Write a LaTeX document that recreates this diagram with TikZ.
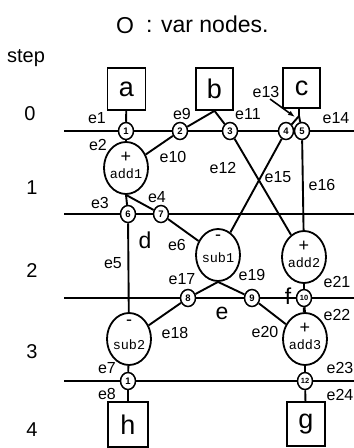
\documentclass[tikz,border=0pt]{standalone}
\usepackage{fontspec}
\setmainfont{Liberation Sans}
\setmonofont{Liberation Mono}
\usetikzlibrary{shapes.geometric,arrows.meta}
\begin{document}
\begin{tikzpicture}[x=1pt,y=-1pt,
  var/.style={ellipse,draw,line width=1.5pt,fill=white,minimum width=15pt,minimum height=17pt,inner sep=0pt,font=\fontsize{9.5}{9.5}\selectfont\bfseries},
  op/.style={ellipse,draw,line width=1.8pt,fill=white,minimum width=44pt,minimum height=52pt,inner sep=0pt},
  box/.style={rectangle,draw,line width=1.7pt,minimum width=38pt,minimum height=42pt,inner sep=0pt,font=\fontsize{27}{27}\selectfont},
  lbl/.style={font=\fontsize{16}{16}\selectfont,inner sep=0pt},
  big/.style={font=\fontsize{23}{23}\selectfont,inner sep=0pt},
  stepnum/.style={font=\fontsize{20}{20}\selectfont,inner sep=0pt},
  conn/.style={line width=1.9pt},
  heavy/.style={line width=2.9pt},
  hline/.style={line width=2.1pt},
  sign/.style={font=\fontsize{18}{18}\selectfont,inner sep=0pt},
  opname/.style={font=\ttfamily\fontsize{13.5}{13.5}\selectfont,inner sep=0pt}
]
\useasboundingbox (0,0) rectangle (354,448);

% title and step column
\node[big,anchor=base] (legO) at (125,33) {O};
\node[big,anchor=base west] (legT) at (146,32) {: var nodes.};
\node[stepnum,anchor=base] (steplbl) at (26,62) {step};
\node[stepnum] (s0) at (30,114) {0};
\node[stepnum] (s1) at (32,188) {1};
\node[stepnum] (s2) at (32,271) {2};
\node[stepnum] (s3) at (32,352) {3};
\node[stepnum] (s4) at (32,430) {4};

% step lines
\foreach \n/\y in {0/131,1/214,2/298,3/381}{
  \coordinate (L\n a) at (64,\y);
  \coordinate (L\n b) at (354,\y);
  \draw[hline] (L\n a) -- (L\n b);
}

% boxes
\node[box] (a) at (126.5,89) {a};
\node[box,minimum width=37pt] (b) at (214.5,89) {b};
\node[box,minimum width=37pt,minimum height=40pt] (c) at (301.5,88) {c};
\node[box,minimum width=40pt,minimum height=45pt] (h) at (128,424.5) {h};
\node[box,minimum height=44pt] (g) at (306,424) {g};

% operation nodes
\node[op] (add1) at (126,168) {};
\node[op] (sub1) at (218,255) {};
\node[op] (add2) at (304,257) {};
\node[op] (sub2) at (129,339) {};
\node[op] (add3) at (305,339) {};
\foreach \o in {add1,add2,add3}{
  \node[sign] (\o s) at ([yshift=11pt]\o.center) {+};
  \node[opname] (\o t) at ([yshift=-6pt]\o.center) {\o};
}
\node[sign] (sub1s) at ([yshift=17pt]sub1.center) {-};
\node[opname] (sub1t) at ([yshift=-3pt]sub1.center) {sub1};
\node[sign] (sub2s) at ([yshift=16pt]sub2.center) {-};
\node[opname] (sub2t) at ([yshift=-6pt]sub2.center) {sub2};

% var nodes
\node[var] (v1) at (126,131) {1};
\node[var] (v2) at (180,131) {2};
\node[var] (v3) at (230,131) {3};
\node[var] (v4) at (286,131) {4};
\node[var] (v5) at (302,131) {5};
\node[var] (v6) at (128,214) {6};
\node[var] (v7) at (161,214) {7};
\node[var] (v8) at (188,298) {8};
\node[var] (v9) at (252,298) {9};
\node[var,font=\fontsize{7.5}{7.5}\selectfont\bfseries] (v10) at (304,298) {10};
\node[var] (v11) at (128,381) {1};
\node[var,font=\fontsize{7.5}{7.5}\selectfont\bfseries] (v12) at (305,381) {12};

% connectors
\coordinate (cj) at (299,116);
\draw[conn] (a) -- (v1);
\draw[conn] (v1) -- (add1);
\draw[conn] (b.south) -- (v2);
\draw[conn] (b.south) -- (v3);
\draw[conn] (v2) -- (add1);
\draw[conn] ([xshift=-2.5pt]c.south) -- (cj);
\draw[conn] (cj) -- (v4);
\draw[conn] (cj) -- (v5);
\draw[conn] (add1.south) -- (v6);
\draw[conn] (add1.south) -- (v7);
\draw[conn] (v6) -- (sub2);
\draw[conn] (v7) -- (sub1);
\draw[conn] (v3) -- (add2);
\draw[conn] (v4) -- (sub1);
\draw[conn] (v5) -- (add2);
\draw[conn] (sub1.south) -- (v8);
\draw[conn] (sub1.south) -- (v9);
\draw[conn] (v8) -- (sub2);
\draw[conn] (v9) -- (add3);
\draw[heavy] (add2) -- (v10);
\draw[heavy] (v10) -- (add3);
\draw[conn] (sub2) -- (v11);
\draw[conn] (v11) -- (h);
\draw[conn] (add3) -- (v12);
\draw[conn] (v12) -- (g);

% e13 pointer
\coordinate (e13tail) at (270,99);
\coordinate (e13tip) at (295,117);
\draw[line width=1.6pt,-{Latex[length=7pt,width=5pt]}] (e13tail) -- (e13tip);

% edge labels
\foreach \n/\x/\y in {e1/97/118,e9/182/114,e11/248/114,e13/266/92,e14/336/118,
  e2/98/145,e10/173/157,e12/223/168,e15/278/177,e16/322/185,e3/100/203,e4/157/197,
  e6/177/245,e5/113/263,e17/182/279,e19/252/275,e21/337/282,e22/337/315,
  e18/175/333,e20/265/332,e7/107/368,e23/340/368,e8/107/394,e24/340/395}{
  \node[lbl] (l\n) at (\x,\y) {\n};
}
\node[big] (ld) at (145,240) {d};
\node[big] (le) at (222,313) {e};
\node[big] (lf) at (288,296) {f};
\end{tikzpicture}
\end{document}
